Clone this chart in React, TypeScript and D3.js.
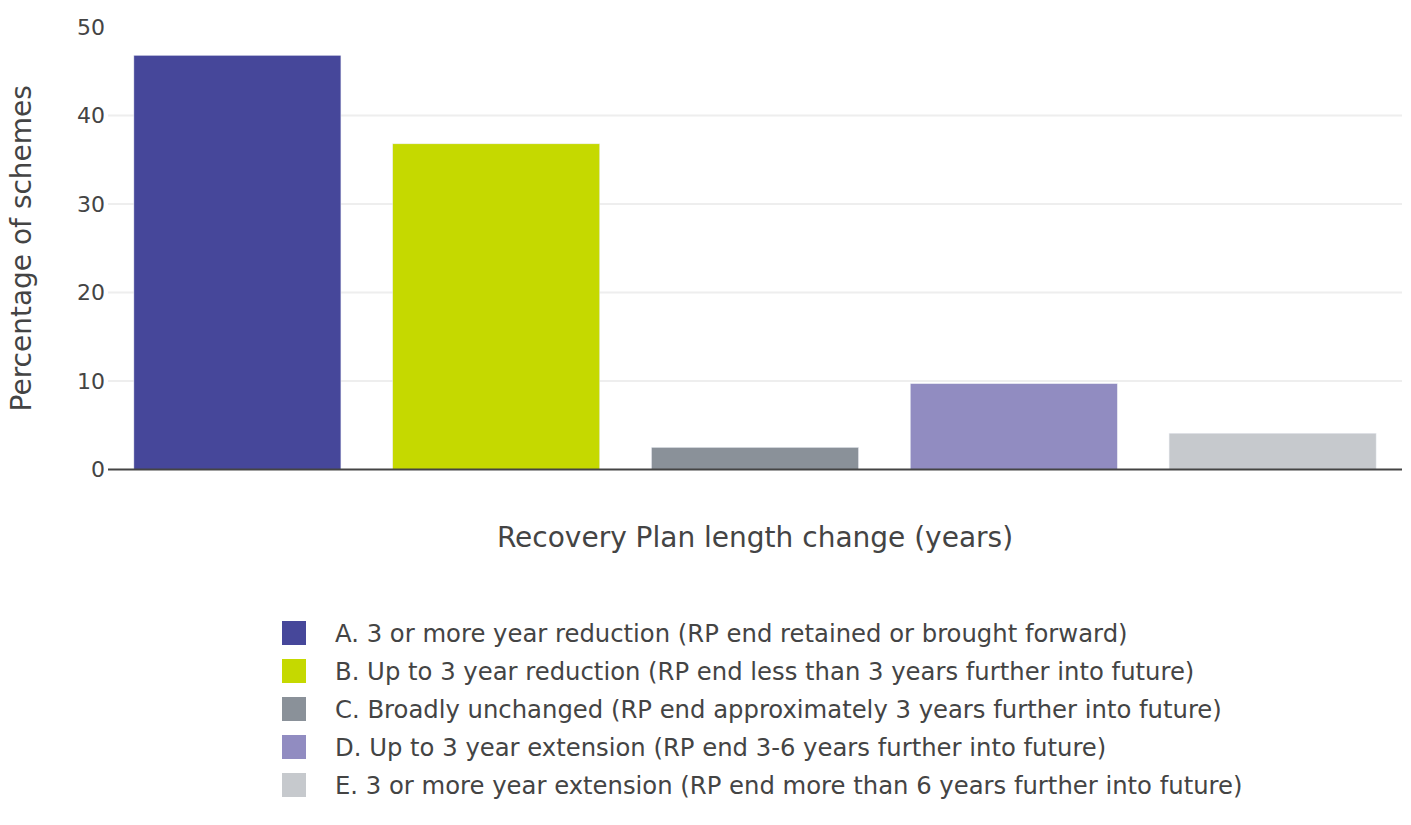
import React, { useEffect, useRef } from 'react'
import * as d3 from 'd3'

const categories = ['A', 'B', 'C', 'D', 'E']
const values = [46.8, 36.8, 2.5, 9.7, 4.1]
const colors = ['#46479a', '#c5d900', '#8a9199', '#918cc1', '#c6c9cd']
const legendLabels = [
  'A. 3 or more year reduction (RP end retained or brought forward)',
  'B. Up to 3 year reduction (RP end less than 3 years further into future)',
  'C. Broadly unchanged (RP end approximately 3 years further into future)',
  'D. Up to 3 year extension (RP end 3-6 years further into future)',
  'E. 3 or more year extension (RP end more than 6 years further into future)',
]
const yTicks = [0, 10, 20, 30, 40, 50]

const App = () => {
  const svgRef = useRef<SVGSVGElement>(null)

  useEffect(() => {
    if (!svgRef.current) return
    const w = 1411
    const h = 825
    const margin = { top: 27, right: 9, left: 108 }
    const plotBottom = 469.5
    const font = "Verdana, 'DejaVu Sans', sans-serif"
    const textColor = '#444'

    const svg = d3.select(svgRef.current)
    svg.selectAll('*').remove()
    svg.attr('width', w).attr('height', h).attr('viewBox', [0, 0, w, h])
    svg.append('rect').attr('width', w).attr('height', h).attr('fill', '#fff')

    // plotly-like bargap: 0.2 of each category slot
    const x = d3
      .scaleBand<string>()
      .domain(categories)
      .range([margin.left, w - margin.right])
      .paddingInner(0.2)
      .paddingOuter(0.1)
    const y = d3.scaleLinear().domain([0, 50]).range([plotBottom, margin.top])

    // gridlines
    svg
      .append('g')
      .selectAll('line')
      .data(yTicks.filter((t) => t > 0 && t < 50))
      .join('line')
      .attr('x1', margin.left)
      .attr('x2', w - margin.right)
      .attr('y1', (d) => y(d))
      .attr('y2', (d) => y(d))
      .attr('stroke', '#eee')
      .attr('stroke-width', 2)

    // y tick labels
    svg
      .append('g')
      .selectAll('text')
      .data(yTicks)
      .join('text')
      .attr('x', margin.left - 3)
      .attr('y', (d) => y(d))
      .attr('dy', '0.36em')
      .attr('text-anchor', 'end')
      .attr('font-family', font)
      .attr('font-size', 22)
      .attr('fill', textColor)
      .text((d) => d)

    // bars
    svg
      .append('g')
      .selectAll('rect')
      .data(values)
      .join('rect')
      .attr('x', (d, i) => x(categories[i])!)
      .attr('width', x.bandwidth())
      .attr('y', (d) => y(d))
      .attr('height', (d) => y(0) - y(d))
      .attr('fill', (d, i) => colors[i])
      .attr('stroke', '#eceef4')
      .attr('stroke-width', 0.5)

    // zero line
    svg
      .append('line')
      .attr('x1', margin.left)
      .attr('x2', w - margin.right)
      .attr('y1', y(0))
      .attr('y2', y(0))
      .attr('stroke', '#444')
      .attr('stroke-width', 2)

    // axis titles
    svg
      .append('text')
      .attr('x', (margin.left + w - margin.right) / 2)
      .attr('y', 547)
      .attr('text-anchor', 'middle')
      .attr('font-family', font)
      .attr('font-size', 28)
      .attr('fill', textColor)
      .text('Recovery Plan length change (years)')

    svg
      .append('text')
      .attr('transform', `translate(31,${(plotBottom + margin.top) / 2}) rotate(-90)`)
      .attr('text-anchor', 'middle')
      .attr('font-family', font)
      .attr('font-size', 28)
      .attr('fill', textColor)
      .text('Percentage of schemes')

    // legend
    const legend = svg
      .append('g')
      .selectAll('g')
      .data(legendLabels)
      .join('g')
      .attr('transform', (d, i) => `translate(282,${633 + i * 38})`)
    legend
      .append('rect')
      .attr('x', 0)
      .attr('y', -12)
      .attr('width', 24)
      .attr('height', 24)
      .attr('fill', (d, i) => colors[i])
    legend
      .append('text')
      .attr('x', 53)
      .attr('dy', '0.36em')
      .attr('font-family', font)
      .attr('font-size', 24.3)
      .attr('fill', textColor)
      .text((d) => d)

    return () => {
      svg.selectAll('*').remove()
    }
  }, [])

  return (
    <div style={{ position: 'absolute', left: 0, top: 0 }}>
      <svg ref={svgRef} style={{ display: 'block' }} />
    </div>
  )
}

export default App
